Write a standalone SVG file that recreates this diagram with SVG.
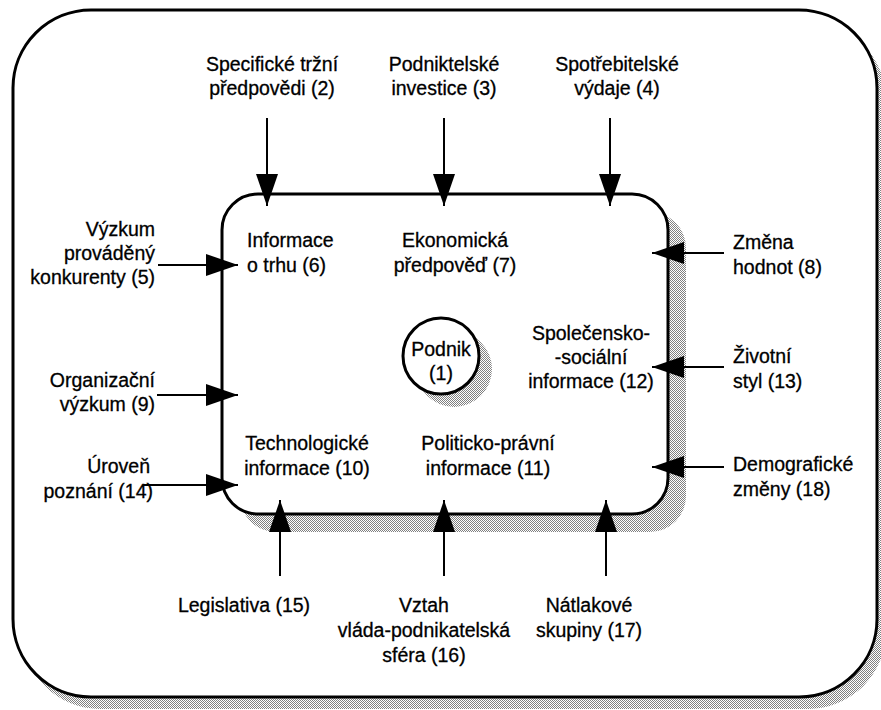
<svg xmlns="http://www.w3.org/2000/svg" width="881" height="710" viewBox="0 0 881 710">
<defs>
<pattern id="dots" width="2" height="2" patternUnits="userSpaceOnUse">
<rect width="2" height="2" fill="#ffffff"/>
<rect x="0" y="0" width="1" height="1" fill="#808080"/>
<rect x="1" y="1" width="1" height="1" fill="#808080"/>
</pattern>
<marker id="ah" markerUnits="userSpaceOnUse" markerWidth="32" markerHeight="22" refX="32" refY="11" orient="auto">
<path d="M0,0 L32,11 L0,22 Z" fill="#000"/>
</marker>
<style>
text{font-family:"Liberation Sans",Arial,sans-serif;font-size:19.5px;fill:#000;stroke:#000;stroke-width:0.3}
.m{text-anchor:middle}
.e{text-anchor:end}
.box{fill:#fff;stroke:#000;stroke-width:3}
.sh{fill:url(#dots);stroke:none}
.c line{stroke:#000;stroke-width:2;marker-end:url(#ah)}
</style>
</defs>
<rect width="881" height="710" fill="#fff"/>
<g id="outer">
<rect class="sh" x="22" y="22" width="864" height="687" rx="78"/>
<rect class="box" x="13" y="10" width="864" height="687" rx="78"/>
</g>
<g id="inner">
<rect class="sh" x="240" y="212" width="446" height="320" rx="36"/>
<rect class="box" x="222" y="194" width="446" height="320" rx="36"/>
</g>
<g id="podnik">
<circle class="sh" cx="454" cy="369" r="38"/>
<circle class="box" cx="441" cy="356" r="38"/>
<text class="m" x="441" y="356">Podnik</text>
<text class="m" x="441" y="380">(1)</text>
</g>
<g id="n6"><text x="247" y="247">Informace</text><text x="247" y="272">o trhu (6)</text></g>
<g id="n7"><text class="m" x="455" y="247">Ekonomická</text><text class="m" x="455" y="272">předpověď (7)</text></g>
<g id="n12"><text class="m" x="591" y="340">Společensko-</text><text class="m" x="591" y="364">-sociální</text><text class="m" x="591" y="388">informace (12)</text></g>
<g id="n10"><text class="m" x="307" y="450">Technologické</text><text class="m" x="307" y="475">informace (10)</text></g>
<g id="n11"><text class="m" x="488" y="450">Politicko-právní</text><text class="m" x="488" y="475">informace (11)</text></g>
<g id="n2"><text class="m" x="272" y="71">Specifické tržní</text><text class="m" x="272" y="95">předpovědi (2)</text></g>
<g id="n3"><text class="m" x="444" y="71">Podniktelské</text><text class="m" x="444" y="95">investice (3)</text></g>
<g id="n4"><text class="m" x="617" y="71">Spotřebitelské</text><text class="m" x="617" y="95">výdaje (4)</text></g>
<g id="n5"><text class="e" x="155" y="236">Výzkum</text><text class="e" x="155" y="260">prováděný</text><text class="e" x="155" y="284">konkurenty (5)</text></g>
<g id="n9"><text class="e" x="155" y="387">Organizační</text><text class="e" x="155" y="411">výzkum (9)</text></g>
<g id="n14"><text class="e" x="150" y="473">Úroveň</text><text class="e" x="153" y="498">poznání (14)</text></g>
<g id="n8"><text x="733" y="249">Změna</text><text x="733" y="274">hodnot (8)</text></g>
<g id="n13"><text x="733" y="363">Životní</text><text x="733" y="388">styl (13)</text></g>
<g id="n18"><text x="733" y="471">Demografické</text><text x="733" y="496">změny (18)</text></g>
<g id="n15"><text class="m" x="244" y="612">Legislativa (15)</text></g>
<g id="n16"><text class="m" x="424" y="612">Vztah</text><text class="m" x="424" y="637">vláda-podnikatelská</text><text class="m" x="424" y="662">sféra (16)</text></g>
<g id="n17"><text class="m" x="589" y="612">Nátlakové</text><text class="m" x="589" y="637">skupiny (17)</text></g>
<g id="connectors" class="c">
<line x1="267" y1="118" x2="267" y2="206"/>
<line x1="444" y1="118" x2="444" y2="206"/>
<line x1="610" y1="118" x2="610" y2="206"/>
<line x1="158" y1="265" x2="238" y2="265"/>
<line x1="157" y1="395" x2="238" y2="395"/>
<line x1="143" y1="485" x2="238" y2="485"/>
<line x1="724" y1="253" x2="652" y2="253"/>
<line x1="724" y1="367" x2="652" y2="367"/>
<line x1="724" y1="467" x2="652" y2="467"/>
<line x1="280" y1="576" x2="280" y2="500"/>
<line x1="444" y1="576" x2="444" y2="500"/>
<line x1="606" y1="576" x2="606" y2="500"/>
</g>
</svg>
